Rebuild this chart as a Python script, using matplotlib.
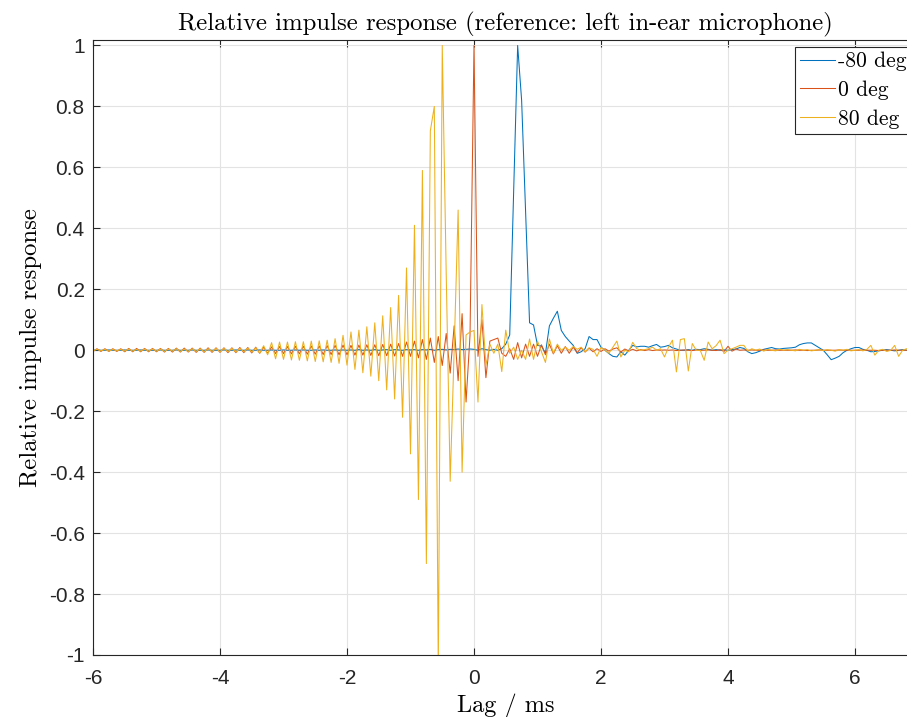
import numpy as np
import matplotlib
matplotlib.use("Agg")
import matplotlib.pyplot as plt

# sampling: 16 kHz, lag in samples from -96 to 112
fs_khz = 16.0
lag_samples = np.arange(-96, 113)

labels = ["-80 deg", "0 deg", "80 deg"]
colors = ["#0072BD", "#D95319", "#EDB120"]

# -80 deg (blue), one row per ms starting at -6 ms
ir_m80 = [
    0.0, 0.001, 0.0, 0.0, 0.001, 0.0, 0.0, 0.0, 0.001, 0.0, 0.0, 0.0, 0.001, 0.0, 0.0, 0.0,
    0.0, 0.001, 0.0, 0.0, 0.0, 0.001, 0.0, 0.0, 0.0, 0.001, 0.0, 0.0, 0.0, 0.001, 0.0, 0.0,
    0.0, 0.001, 0.0, 0.0, 0.001, 0.0, 0.0, 0.001, 0.0, 0.0, 0.001, 0.0, 0.0, 0.001, 0.0, 0.0,
    0.001, 0.0, 0.0, 0.001, 0.0, 0.001, 0.0, 0.0, 0.001, 0.0, 0.001, 0.0, 0.0, 0.001, 0.0, 0.001,
    0.0, 0.001, 0.0, 0.002, 0.0, 0.001, 0.0, 0.002, 0.0, 0.001, 0.002, 0.0, 0.002, 0.001, 0.0, 0.002,
    0.001, 0.002, 0.0, 0.002, 0.001, 0.003, 0.0, 0.002, 0.003, 0.001, 0.003, 0.002, 0.004, 0.002, 0.003, 0.004,
    0.003, 0.0, 0.005, 0.002, 0.0, 0.003, 0.0, 0.005, 0.02, 0.05, 0.52, 1.0, 0.82, 0.45, 0.09, 0.083,
    0.016, 0.014, -0.01, 0.08, 0.105, 0.128, 0.065, 0.045, 0.03, 0.016, -0.01, -0.005, 0.005, 0.045, 0.035, 0.035,
    0.01, 0.0, -0.011, -0.02, -0.022, -0.005, -0.016, 0.0, 0.016, 0.011, 0.013, 0.013, 0.01, 0.015, 0.019, 0.01,
    0.012, 0.016, 0.008, 0.004, 0.0, 0.0, 0.002, 0.0, 0.003, 0.002, 0.005, 0.003, 0.0, 0.002, 0.0, 0.001,
    0.0, 0.002, 0.004, 0.009, 0.006, -0.005, -0.011, -0.008, -0.003, 0.003, 0.006, 0.009, 0.005, 0.004, 0.006, 0.007,
    0.008, 0.01, 0.018, 0.022, 0.024, 0.024, 0.016, 0.008, 0.0, -0.015, -0.031, -0.026, -0.02, -0.008, 0.0, 0.005,
    0.009, 0.009, 0.003, 0.0, -0.005, -0.004, -0.002, 0.0, 0.002, 0.0, -0.002, 0.0, 0.002, 0.0, 0.0, 0.0,
    0.0,
]

# 0 deg (red)
ir_0 = [
    -0.004, 0.005, -0.004, 0.005, -0.004, 0.005, -0.004, 0.005, -0.005, 0.006, -0.005, 0.006, -0.005, 0.006, -0.005, 0.006,
    -0.005, 0.006, -0.006, 0.006, -0.006, 0.007, -0.006, 0.007, -0.006, 0.007, -0.007, 0.007, -0.007, 0.008, -0.007, 0.008,
    -0.007, 0.008, -0.008, 0.008, -0.008, 0.009, -0.008, 0.009, -0.009, 0.01, -0.01, 0.01, -0.01, 0.011, -0.011, 0.012,
    -0.011, 0.012, -0.012, 0.013, -0.012, 0.013, -0.013, 0.014, -0.013, 0.014, -0.014, 0.015, -0.014, 0.016, -0.015, 0.017,
    -0.015, 0.016, -0.016, 0.017, -0.016, 0.018, -0.017, 0.018, -0.018, 0.019, -0.018, 0.02, -0.019, 0.022, -0.02, 0.027,
    -0.02, 0.03, -0.025, 0.035, -0.03, 0.04, -0.04, 0.045, -0.05, 0.055, -0.075, 0.08, -0.1, 0.12, -0.17, 0.05,
    1.0, -0.02, 0.1, -0.09, 0.03, 0.035, 0.04, -0.01, -0.02, 0.005, -0.03, 0.025, -0.025, 0.02, -0.02, 0.02,
    -0.02, 0.018, -0.015, 0.02, -0.012, 0.015, -0.01, 0.012, -0.01, 0.01, -0.008, 0.008, -0.006, 0.007, -0.005, 0.005,
    -0.004, 0.005, -0.003, 0.004, 0.008, -0.006, 0.004, -0.002, 0.003, -0.002, 0.002, -0.001, 0.002, -0.001, 0.001, 0.0,
    0.001, 0.0, 0.001, -0.001, 0.0, 0.001, 0.0, -0.001, 0.001, 0.0, 0.0, 0.001, 0.0, -0.001, 0.002, -0.004,
    0.013, -0.003, 0.004, 0.0, 0.001, 0.0, 0.001, 0.0, 0.0, 0.001, 0.0, 0.0, 0.001, 0.0, 0.0, 0.0,
    0.0, 0.001, 0.0, 0.0, -0.001, 0.0, 0.0, 0.001, 0.0, 0.0, 0.0, 0.0, 0.001, 0.0, 0.0, 0.0,
    0.0, 0.0, 0.001, 0.0, 0.0, 0.0, -0.001, 0.0, 0.0, 0.0, 0.001, 0.0, 0.0, 0.0, 0.0, 0.0,
    0.0,
]

# 80 deg (yellow)
ir_p80 = [
    -0.002, 0.003, -0.002, 0.003, -0.003, 0.003, -0.002, 0.003, -0.003, 0.004, -0.003, 0.003, -0.003, 0.004, -0.003, 0.004,
    -0.003, 0.004, -0.004, 0.004, -0.003, 0.005, -0.004, 0.004, -0.004, 0.005, -0.004, 0.005, -0.005, 0.005, -0.004, 0.006,
    -0.005, 0.006, -0.005, 0.006, -0.006, 0.006, -0.005, 0.007, -0.006, 0.008, -0.01, 0.015, -0.015, 0.025, -0.028, 0.027,
    -0.03, 0.027, -0.032, 0.028, -0.033, 0.028, -0.035, 0.03, -0.037, 0.031, -0.038, 0.033, -0.04, 0.038, -0.043, 0.049,
    -0.049, 0.06, -0.063, 0.066, -0.074, 0.077, -0.085, 0.09, -0.1, 0.113, -0.13, 0.14, -0.16, 0.18, -0.22, 0.27,
    -0.34, 0.41, -0.49, 0.59, -0.7, 0.72, 0.8, -1.05, 1.0, 0.25, -0.43, 0.0, 0.46, -0.4, 0.05, 0.06,
    0.065, -0.17, 0.15, -0.05, 0.02, -0.01, 0.02, -0.07, 0.066, -0.01, 0.01, -0.03, 0.0, -0.03, 0.037, -0.03,
    0.03, -0.005, -0.04, 0.037, -0.01, 0.02, 0.0, 0.01, 0.0, 0.012, 0.003, 0.01, -0.005, 0.008, 0.003, -0.02,
    0.009, 0.0, -0.01, 0.01, 0.03, -0.022, 0.0, -0.005, 0.026, 0.005, 0.0, 0.002, 0.005, 0.01, 0.0, 0.005,
    -0.022, 0.01, 0.033, -0.071, 0.035, 0.038, -0.068, 0.022, 0.0, 0.0, -0.033, 0.027, 0.005, 0.015, 0.033, -0.011,
    0.0, 0.005, 0.01, 0.016, 0.016, -0.003, 0.005, 0.0, 0.004, -0.003, 0.003, 0.0, -0.002, 0.003, 0.0, 0.002,
    0.0, -0.002, 0.003, 0.0, 0.002, -0.002, 0.0, 0.002, -0.001, 0.002, 0.0, -0.003, 0.002, 0.0, 0.003, -0.002,
    0.0, 0.002, -0.002, 0.003, 0.016, -0.016, 0.0, 0.003, -0.004, 0.0, 0.016, -0.02, 0.0, 0.005, 0.0, 0.002,
    0.0,
]

yticks = np.round(np.linspace(-1, 1, 11), 1)
xticks = [-6, -4, -2, 0, 2, 4, 6]

serif = ["cmr10", "DejaVu Serif"]
sans = ["Liberation Sans", "DejaVu Sans"]

fig = plt.figure(figsize=(9.07, 7.17), dpi=100)
ax = fig.add_axes([93 / 907, 62 / 717, 825.5 / 907, 615 / 717])

lag_ms = lag_samples / fs_khz
for ir, lab, col in zip([ir_m80, ir_0, ir_p80], labels, colors):
    ax.plot(lag_ms, ir, color=col, linewidth=0.75, label=lab)

ax.set_xlim(-6, 7)
ax.set_ylim(-1, 1.018)
ax.set_xticks(xticks)
ax.set_yticks(yticks)
ax.set_xticklabels([f"{t:g}" for t in xticks], fontfamily=sans, fontsize=15)
ax.set_yticklabels([f"{t:g}" for t in yticks], fontfamily=sans, fontsize=15)
ax.tick_params(direction="in", length=5, width=0.8, color="#262626",
               top=True, right=True, pad=6, labelcolor="#262626")
ax.tick_params(axis="x", pad=10)
ax.grid(True, color="#e3e3e3", linewidth=0.8)
ax.set_axisbelow(True)
for s in ax.spines.values():
    s.set_color("#262626")
    s.set_linewidth(0.8)

ax.set_title("Relative impulse response (reference: left in-ear microphone)",
             fontfamily=serif, fontsize=17.8, pad=7)
ax.set_xlabel("Lag / ms", fontfamily=serif, fontsize=17.5, labelpad=4)
ax.set_ylabel("Relative impulse response", fontfamily=serif, fontsize=17.8, labelpad=5)

leg = ax.legend(loc="upper right", bbox_to_anchor=(1.0, 1.0), borderaxespad=0.3,
                prop={"family": serif, "size": 15.6}, handlelength=1.6,
                handletextpad=0.15, labelspacing=0.42, borderpad=0.25,
                fancybox=False, framealpha=1.0, edgecolor="#262626")
leg.get_frame().set_linewidth(0.8)

fig.savefig("out.png", dpi=100)
